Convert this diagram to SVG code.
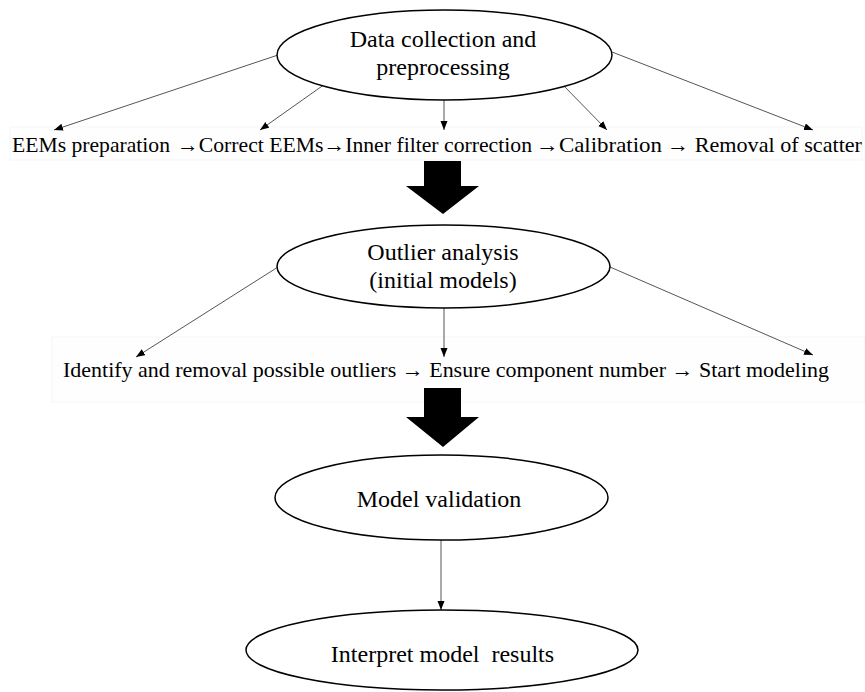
<svg xmlns="http://www.w3.org/2000/svg" width="865" height="692" viewBox="0 0 865 692">
<style>
.bg{fill:#ffffff}
.node{fill:#ffffff;stroke:#000;stroke-width:1.5}
.t{font-family:"Liberation Serif","Times New Roman",serif;fill:#000;text-anchor:middle;white-space:pre}
.nt{font-size:24px}
.rt{font-family:"Liberation Serif","Times New Roman",serif;fill:#000;font-size:22px;white-space:pre}
.conn{stroke:#555;stroke-width:1;fill:none;marker-end:url(#ah)}
.big{fill:#000}
.box{fill:#fefefe;stroke:#f6f6f6;stroke-width:1}
</style>
<defs>
<marker id="ah" markerUnits="userSpaceOnUse" markerWidth="10" markerHeight="8" refX="9" refY="3.5" orient="auto">
<path d="M0,0 L9,3.5 L0,7 z" fill="#000"/>
</marker>
</defs>
<rect class="bg" x="0" y="0" width="865" height="692"/>

<g id="row1">
<rect class="box" x="10" y="127" width="852" height="33"/>
<text class="rt" x="12" y="152" textLength="158" lengthAdjust="spacingAndGlyphs">EEMs preparation</text>
<text class="rt" x="177" y="152" textLength="355" lengthAdjust="spacingAndGlyphs">→Correct EEMs→Inner filter correction</text>
<text class="rt" x="536" y="152" textLength="126" lengthAdjust="spacingAndGlyphs">→Calibration</text>
<text class="rt" x="667" y="152" textLength="195" lengthAdjust="spacingAndGlyphs">→ Removal of scatter</text>
</g>

<g id="row2">
<rect class="box" x="52" y="337" width="813" height="65"/>
<text class="rt" x="63" y="377" textLength="766" lengthAdjust="spacingAndGlyphs">Identify and removal possible outliers → Ensure component number → Start modeling</text>
</g>

<g id="connectors">
<line class="conn" x1="278" y1="55" x2="54" y2="130"/>
<line class="conn" x1="325" y1="84" x2="260" y2="130"/>
<line class="conn" x1="444" y1="100" x2="444" y2="130"/>
<line class="conn" x1="562" y1="84" x2="607" y2="130"/>
<line class="conn" x1="612" y1="52" x2="813" y2="130"/>
<line class="conn" x1="278" y1="267" x2="136" y2="357"/>
<line class="conn" x1="444" y1="308" x2="444" y2="357"/>
<line class="conn" x1="610" y1="267" x2="813" y2="355"/>
<line class="conn" x1="441" y1="540" x2="441" y2="610"/>
</g>

<g id="bigarrow1">
<polygon class="big" points="424,161 461,161 461,186 479,186 443,214 406,186 424,186"/>
</g>
<g id="bigarrow2">
<polygon class="big" points="424,388 461,388 461,417 479,417 443,447 406,417 424,417"/>
</g>

<g id="n1">
<ellipse class="node" cx="444.5" cy="55" rx="167.5" ry="45"/>
<text class="t nt" x="443" y="47">Data collection and</text>
<text class="t nt" x="443" y="75">preprocessing</text>
</g>

<g id="n2">
<ellipse class="node" cx="443.5" cy="266.5" rx="166.5" ry="41.5"/>
<text class="t nt" x="443" y="260">Outlier analysis</text>
<text class="t nt" x="443" y="288">(initial models)</text>
</g>

<g id="n3">
<ellipse class="node" cx="441.5" cy="497.5" rx="166.5" ry="42.5"/>
<text class="t nt" x="439" y="507">Model validation</text>
</g>

<g id="n4">
<ellipse class="node" cx="442" cy="650" rx="196" ry="40"/>
<text class="t nt" x="442.5" y="662">Interpret model  results</text>
</g>
</svg>
